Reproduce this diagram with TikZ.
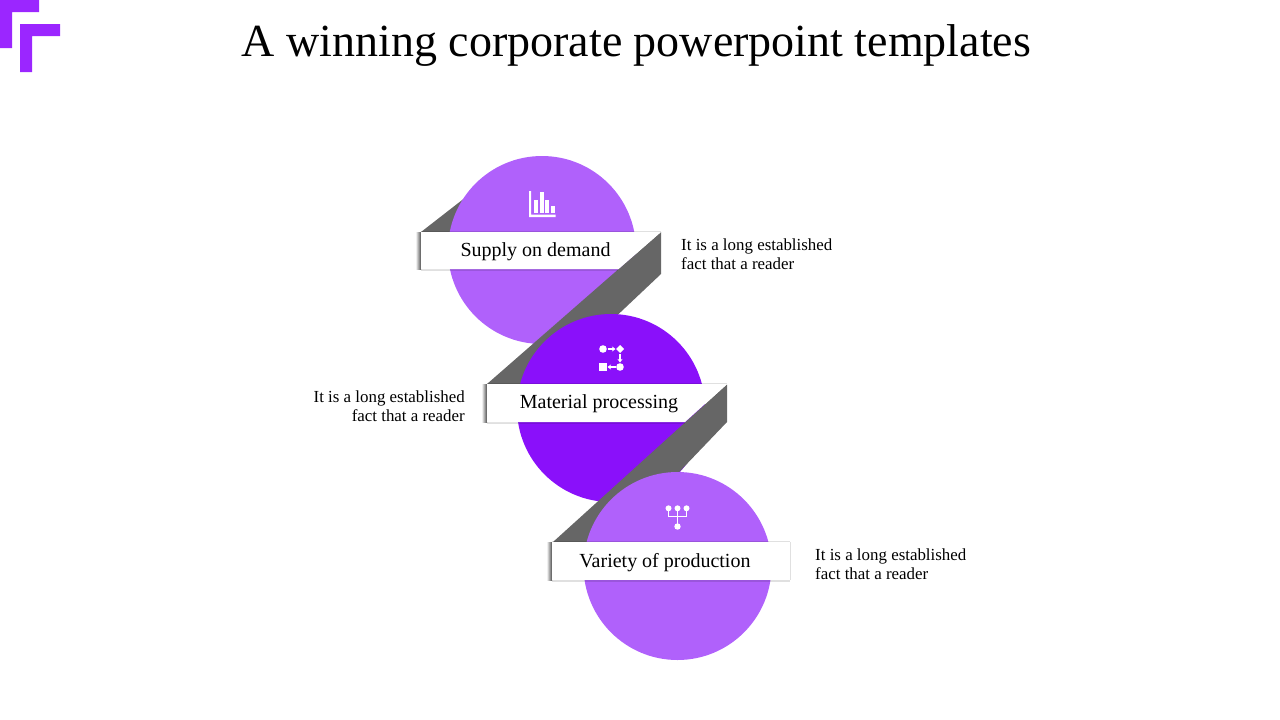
\documentclass[tikz,border=0pt]{standalone}
\usepackage{fontspec}
\setmainfont{Liberation Serif}
\usetikzlibrary{arrows.meta}
\definecolor{logopurple}{HTML}{9B26FF}
\definecolor{lightpurple}{HTML}{B061FB}
\definecolor{darkpurple}{HTML}{8A10FA}
\definecolor{ribbongray}{HTML}{666666}
\tikzset{
    disc/.style={fill=#1},
    ribbon/.style={fill=ribbongray},
    plate/.style={fill=white},
    plateshade/.style={left color=white, right color=black!70},
    plateedge/.style={fill=black, opacity=0.12},
    platetext/.style={font=\fontsize{20}{24}\selectfont},
    sidetext/.style={font=\fontsize{16.9}{19}\selectfont},
    icon/.style={fill=white},
    iconline/.style={draw=white, line width=1.1pt},
    iconarrow/.style={draw=white, line width=1.1pt, -{Stealth[length=3.5pt,width=5pt]}}
}
\begin{document}
\begin{tikzpicture}[x=1pt,y=-1pt]
    \useasboundingbox (0,0) rectangle (1280,720);

    % Logo
    \fill[logopurple] (0,0) -- (39,0) -- (39,12) -- (12,12) -- (12,48) -- (0,48) -- cycle;
    \fill[logopurple] (20,24) -- (60,24) -- (60,36) -- (32,36) -- (32,72) -- (20,72) -- cycle;

    % Title
    \node (title) at (636.5,46) {\fontsize{46}{50}\selectfont A winning corporate powerpoint templates};

    % First tier
    \fill[ribbon] (421,232) -- (466,197) -- (480,232) -- cycle;
    \fill[disc=lightpurple] (542,250) circle (94);
    \fill[ribbon] (661,232) -- (661,274) -- (590,341) -- (560,384) -- (487,384) -- cycle;
    \fill[plateshade] (415.5,232) rectangle (421,269.5);
    \fill[plateedge] (421,231) rectangle (661,232);
    \fill[plateedge] (421,269) rectangle (618,270.5);
    \fill[plate] (421,232) -- (661,232) -- (618.6,269) -- (421,269) -- cycle;

    % Second tier
    \fill[disc=darkpurple] (611,408) circle (94);
    \fill[ribbon] (727,384.5) -- (727,422) -- (660,492) -- (620,542) -- (553,542) -- cycle;
    \fill[plateshade] (481.5,384) rectangle (487,422.5);
    \fill[plateedge] (487,383) rectangle (727,384);
    \fill[plateedge] (487,422) rectangle (685,423.5);
    \fill[plate] (487,384) -- (727,384) -- (685,422) -- (487,422) -- cycle;

    % Third tier
    \fill[disc=lightpurple] (677.5,566) circle (94);
    \fill[plateshade] (546.5,542) rectangle (552,580.5);
    \fill[plateedge] (552,541) rectangle (790,542);
    \fill[plateedge] (552,580) rectangle (790,581.5);
    \fill[plateedge] (790,542) rectangle (791,580);
    \fill[plate] (552,542) rectangle (790,580);

    % Bar chart icon
    \fill[icon] (529,191) -- (531,191) -- (531,214.5) -- (555.5,214.5) -- (555.5,217) -- (529,217) -- cycle;
    \foreach \x/\top in {534/199.5, 539.5/191.5, 545/199.5, 550.7/206}
    {
        \fill[icon] (\x,\top) rectangle (\x+4,213);
    }

    % Flow icon
    \fill[icon] (603,349) circle (3.8);
    \fill[icon] (620,345) -- (624,349) -- (620,353) -- (616,349) -- cycle;
    \fill[icon] (620,367) circle (3.8);
    \fill[icon] (599,363.3) rectangle (606.5,370.7);
    \draw[iconarrow] (607.5,349) -- (615.5,349);
    \draw[iconarrow] (620,354) -- (620,362.5);
    \draw[iconarrow] (615.5,367) -- (607.5,367);

    % Tree icon
    \foreach \x in {668.5,677.5,686.5}
    {
        \fill[icon] (\x,508.3) circle (3);
        \draw[iconline] (\x,508.3) -- (\x,516.5);
    }
    \draw[iconline] (668,516.5) -- (687,516.5);
    \draw[iconline] (677.5,516.5) -- (677.5,525);
    \fill[icon] (677.5,526.5) circle (3.2);

    % Labels
    \node[platetext] (supply) at (535.5,252) {Supply on demand};
    \node[platetext] (material) at (599,404) {Material processing};
    \node[platetext] (variety) at (665,563) {Variety of production};

    % Side texts
    \node[sidetext, anchor=west, align=left, inner sep=0pt] (supplytext) at (681,254) {It is a long established\\fact that a reader};
    \node[sidetext, anchor=east, align=right, inner sep=0pt] (materialtext) at (465,406) {It is a long established\\fact that a reader};
    \node[sidetext, anchor=west, align=left, inner sep=0pt] (varietytext) at (815,564) {It is a long established\\fact that a reader};
\end{tikzpicture}
\end{document}
